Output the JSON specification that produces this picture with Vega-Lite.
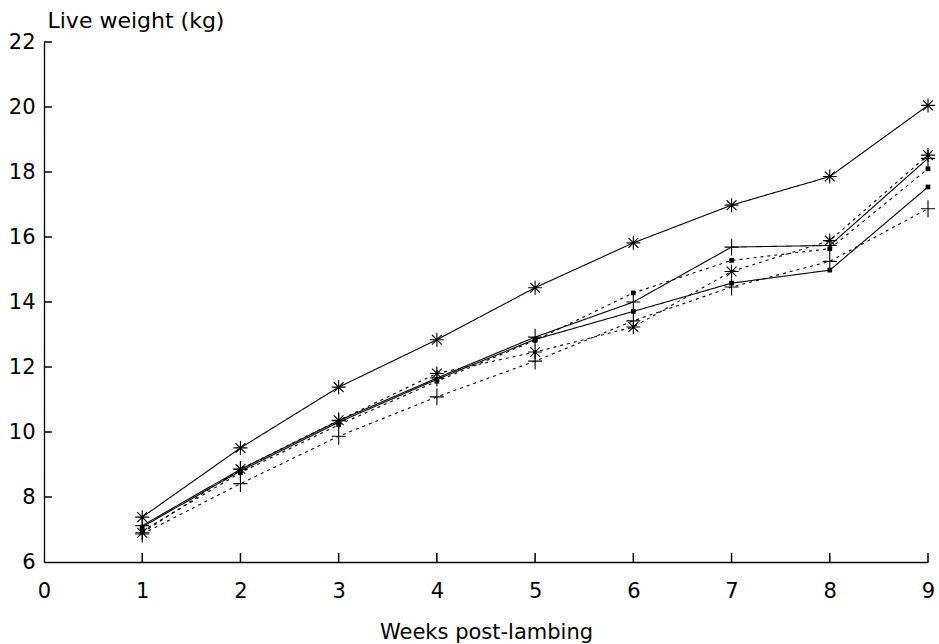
{
  "$schema": "https://vega.github.io/schema/vega-lite/v6.json",
  "width": 884,
  "height": 520,
  "autosize": {"type": "none"},
  "padding": {"left": 44, "right": 11, "top": 42, "bottom": 82},
  "background": "white",
  "config": {
    "view": {"stroke": null},
    "font": "DejaVu Sans",
    "axis": {"grid": false, "domainColor": "black", "tickColor": "black", "labelColor": "black", "titleColor": "black", "labelFont": "DejaVu Sans", "titleFont": "DejaVu Sans", "titleFontWeight": "normal", "domainWidth": 1.3, "ticks": false}
  },
  "datasets": {
    "series": [
      {"week": 1, "weight": 7.38, "series": "A", "marker": "asterisk", "line": "solid"},
      {"week": 2, "weight": 9.51, "series": "A", "marker": "asterisk", "line": "solid"},
      {"week": 3, "weight": 11.38, "series": "A", "marker": "asterisk", "line": "solid"},
      {"week": 4, "weight": 12.84, "series": "A", "marker": "asterisk", "line": "solid"},
      {"week": 5, "weight": 14.44, "series": "A", "marker": "asterisk", "line": "solid"},
      {"week": 6, "weight": 15.82, "series": "A", "marker": "asterisk", "line": "solid"},
      {"week": 7, "weight": 16.98, "series": "A", "marker": "asterisk", "line": "solid"},
      {"week": 8, "weight": 17.86, "series": "A", "marker": "asterisk", "line": "solid"},
      {"week": 9, "weight": 20.05, "series": "A", "marker": "asterisk", "line": "solid"},
      {"week": 1, "weight": 7.12, "series": "B", "marker": "plus", "line": "solid"},
      {"week": 2, "weight": 8.85, "series": "B", "marker": "plus", "line": "solid"},
      {"week": 3, "weight": 10.35, "series": "B", "marker": "plus", "line": "solid"},
      {"week": 4, "weight": 11.66, "series": "B", "marker": "plus", "line": "solid"},
      {"week": 5, "weight": 12.92, "series": "B", "marker": "plus", "line": "solid"},
      {"week": 6, "weight": 14.0, "series": "B", "marker": "plus", "line": "solid"},
      {"week": 7, "weight": 15.69, "series": "B", "marker": "plus", "line": "solid"},
      {"week": 8, "weight": 15.74, "series": "B", "marker": "plus", "line": "solid"},
      {"week": 9, "weight": 18.42, "series": "B", "marker": "plus", "line": "solid"},
      {"week": 1, "weight": 7.08, "series": "C", "marker": "square", "line": "solid"},
      {"week": 2, "weight": 8.8, "series": "C", "marker": "square", "line": "solid"},
      {"week": 3, "weight": 10.3, "series": "C", "marker": "square", "line": "solid"},
      {"week": 4, "weight": 11.62, "series": "C", "marker": "square", "line": "solid"},
      {"week": 5, "weight": 12.85, "series": "C", "marker": "square", "line": "solid"},
      {"week": 6, "weight": 13.71, "series": "C", "marker": "square", "line": "solid"},
      {"week": 7, "weight": 14.58, "series": "C", "marker": "square", "line": "solid"},
      {"week": 8, "weight": 14.98, "series": "C", "marker": "square", "line": "solid"},
      {"week": 9, "weight": 17.54, "series": "C", "marker": "square", "line": "solid"},
      {"week": 1, "weight": 6.9, "series": "D", "marker": "asterisk", "line": "dotted"},
      {"week": 2, "weight": 8.86, "series": "D", "marker": "asterisk", "line": "dotted"},
      {"week": 3, "weight": 10.36, "series": "D", "marker": "asterisk", "line": "dotted"},
      {"week": 4, "weight": 11.8, "series": "D", "marker": "asterisk", "line": "dotted"},
      {"week": 5, "weight": 12.46, "series": "D", "marker": "asterisk", "line": "dotted"},
      {"week": 6, "weight": 13.23, "series": "D", "marker": "asterisk", "line": "dotted"},
      {"week": 7, "weight": 14.94, "series": "D", "marker": "asterisk", "line": "dotted"},
      {"week": 8, "weight": 15.89, "series": "D", "marker": "asterisk", "line": "dotted"},
      {"week": 9, "weight": 18.52, "series": "D", "marker": "asterisk", "line": "dotted"},
      {"week": 1, "weight": 6.95, "series": "E", "marker": "square", "line": "dotted"},
      {"week": 2, "weight": 8.75, "series": "E", "marker": "square", "line": "dotted"},
      {"week": 3, "weight": 10.22, "series": "E", "marker": "square", "line": "dotted"},
      {"week": 4, "weight": 11.56, "series": "E", "marker": "square", "line": "dotted"},
      {"week": 5, "weight": 12.82, "series": "E", "marker": "square", "line": "dotted"},
      {"week": 6, "weight": 14.28, "series": "E", "marker": "square", "line": "dotted"},
      {"week": 7, "weight": 15.28, "series": "E", "marker": "square", "line": "dotted"},
      {"week": 8, "weight": 15.64, "series": "E", "marker": "square", "line": "dotted"},
      {"week": 9, "weight": 18.1, "series": "E", "marker": "square", "line": "dotted"},
      {"week": 1, "weight": 6.86, "series": "F", "marker": "plus", "line": "dotted"},
      {"week": 2, "weight": 8.41, "series": "F", "marker": "plus", "line": "dotted"},
      {"week": 3, "weight": 9.87, "series": "F", "marker": "plus", "line": "dotted"},
      {"week": 4, "weight": 11.08, "series": "F", "marker": "plus", "line": "dotted"},
      {"week": 5, "weight": 12.18, "series": "F", "marker": "plus", "line": "dotted"},
      {"week": 6, "weight": 13.42, "series": "F", "marker": "plus", "line": "dotted"},
      {"week": 7, "weight": 14.46, "series": "F", "marker": "plus", "line": "dotted"},
      {"week": 8, "weight": 15.25, "series": "F", "marker": "plus", "line": "dotted"},
      {"week": 9, "weight": 16.87, "series": "F", "marker": "plus", "line": "dotted"}
    ],
    "xticks": [
      {"week": 1, "weight": 6, "weight2": 6.28},
      {"week": 2, "weight": 6, "weight2": 6.28},
      {"week": 3, "weight": 6, "weight2": 6.28},
      {"week": 4, "weight": 6, "weight2": 6.28},
      {"week": 5, "weight": 6, "weight2": 6.28},
      {"week": 6, "weight": 6, "weight2": 6.28},
      {"week": 7, "weight": 6, "weight2": 6.28},
      {"week": 8, "weight": 6, "weight2": 6.28},
      {"week": 9, "weight": 6, "weight2": 6.28}
    ],
    "yticks": [
      {"week": 0, "week2": 0.08, "weight": 8},
      {"week": 0, "week2": 0.08, "weight": 10},
      {"week": 0, "week2": 0.08, "weight": 12},
      {"week": 0, "week2": 0.08, "weight": 14},
      {"week": 0, "week2": 0.08, "weight": 16},
      {"week": 0, "week2": 0.08, "weight": 18},
      {"week": 0, "week2": 0.08, "weight": 20},
      {"week": 0, "week2": 0.08, "weight": 22}
    ]
  },
  "data": {"name": "series"},
  "encoding": {
    "x": {"field": "week", "type": "quantitative",
      "scale": {"domain": [0, 9], "nice": false, "zero": false},
      "axis": {"values": [0,1,2,3,4,5,6,7,8,9], "format": "d", "title": "Weeks post-lambing", "labelFontSize": 21, "titleFontSize": 21, "labelPadding": 18, "labelFlush": false, "titleBaseline": "alphabetic", "titleY": 76}},
    "y": {"field": "weight", "type": "quantitative",
      "scale": {"domain": [6, 22], "nice": false, "zero": false},
      "axis": {"values": [6,8,10,12,14,16,18,20,22], "title": "Live weight (kg)", "labelFontSize": 21, "titleFontSize": 22, "titleAngle": 0, "titleAlign": "left", "titleBaseline": "alphabetic", "titleX": 3, "titleY": -15, "labelPadding": 9, "labelFlush": false, "labelBaseline": "middle"}}
  },
  "layer": [
    {"data": {"name": "xticks"}, "mark": {"type": "rule", "color": "black", "strokeWidth": 1.5},
      "encoding": {"y2": {"field": "weight2"}}},
    {"data": {"name": "yticks"}, "mark": {"type": "rule", "color": "black", "strokeWidth": 1.5},
      "encoding": {"x2": {"field": "week2"}}},
    {"mark": {"type": "line", "color": "black", "strokeWidth": 1.1},
      "encoding": {
        "detail": {"field": "series"},
        "strokeDash": {"field": "line", "type": "nominal", "scale": {"domain": ["solid", "dotted"], "range": [[1, 0], [3, 4]]}, "legend": null}
      }},
    {"transform": [{"filter": "datum.marker !== 'square'"}],
      "mark": {"type": "point", "filled": false, "color": "black", "strokeWidth": 1.1, "opacity": 1, "size": 196},
      "encoding": {
        "shape": {"field": "marker", "type": "nominal", "scale": {"domain": ["asterisk", "plus"], "range": ["M-1,0L1,0M0,-1L0,1M-0.7,-0.7L0.7,0.7M-0.7,0.7L0.7,-0.7", "M-1,0L1,0M0,-1.2L0,1.2"]}, "legend": null}
      }},
    {"transform": [{"filter": "datum.marker === 'square'"}],
      "mark": {"type": "square", "color": "black", "opacity": 1, "size": 22}}
  ]
}
